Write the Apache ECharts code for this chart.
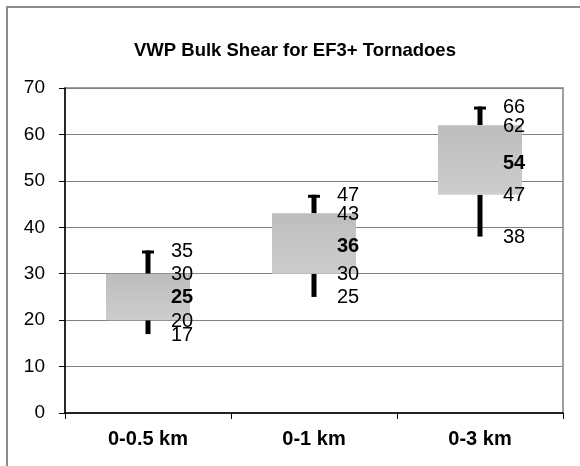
<!DOCTYPE html>
<html>
<head>
<meta charset="utf-8">
<script src="https://cdn.jsdelivr.net/npm/echarts@6/dist/echarts.min.js"></script>
<style>
html,body{margin:0;padding:0;background:#fff;}
#chart{width:580px;height:466px;}
</style>
</head>
<body>
<div id="chart"></div>
<script>
const categories = ['0-0.5 km', '0-1 km', '0-3 km'];
const minVals    = [17, 25, 38];
const q1Vals     = [20, 30, 47];
const medianVals = [25, 36, 54];
const q3Vals     = [30, 43, 62];
const maxVals    = [35, 47, 66];
const yMin = 0, yMax = 70, yInterval = 10;
const titleText = 'VWP Bulk Shear for EF3+ Tornadoes';

const FONT = '"Liberation Sans", Arial, sans-serif';
const chart = echarts.init(document.getElementById('chart'), null, {renderer: 'canvas'});

const data = categories.map((c, i) => [i, minVals[i], q1Vals[i], medianVals[i], q3Vals[i], maxVals[i]]);

function renderItem(params, api) {
  const idx = api.value(0);
  const cx = api.coord([idx, 0])[0];
  const yOf = v => api.coord([idx, v])[1];
  const band = api.size([1, 0])[0];
  const boxW = band * 0.506;
  const vMin = api.value(1), vQ1 = api.value(2), vMed = api.value(3), vQ3 = api.value(4), vMax = api.value(5);
  const yMinP = yOf(vMin), yQ1 = yOf(vQ1), yQ3 = yOf(vQ3), yMaxP = yOf(vMax);
  const wW = 5, capW = 12, capH = 3;
  const children = [
    {type: 'rect', shape: {x: cx - wW / 2, y: yMaxP, width: wW, height: yQ3 - yMaxP}, style: {fill: '#000'}},
    {type: 'rect', shape: {x: cx - capW / 2, y: yMaxP, width: capW, height: capH}, style: {fill: '#000'}},
    {type: 'rect', shape: {x: cx - wW / 2, y: yQ1, width: wW, height: yMinP - yQ1}, style: {fill: '#000'}},
    {type: 'rect', shape: {x: cx - boxW / 2, y: yQ3, width: boxW, height: yQ1 - yQ3},
      style: {fill: {type: 'linear', x: 0, y: 0, x2: 0, y2: 1,
        colorStops: [{offset: 0, color: '#bdbdbd'}, {offset: 1, color: '#cdcdcd'}]}}}
  ];
  const labels = [[vMax, false], [vQ3, false], [vMed, true], [vQ1, false], [vMin, false]];
  labels.forEach(([v, bold]) => {
    children.push({
      type: 'text', x: cx + 23, y: yOf(v) + 1,
      style: {text: String(v), fill: '#000', align: 'left', verticalAlign: 'middle',
        font: (bold ? 'bold ' : '') + '20px ' + FONT}
    });
  });
  return {type: 'group', children};
}

chart.setOption({
  animation: false,
  backgroundColor: '#fff',
  grid: {left: 65, right: 17, top: 88, bottom: 53, show: true, borderColor: '#808080', borderWidth: 1.5, containLabel: false},
  graphic: [
    {type: 'rect', shape: {x: 7, y: 7, width: 700, height: 700}, style: {fill: 'none', stroke: '#8c8c8c', lineWidth: 2}, z: -1},
    {type: 'text', x: 134, y: 51, style: {text: titleText, fill: '#000', align: 'left', verticalAlign: 'middle',
      font: 'bold 18.5px ' + FONT}}
  ],
  xAxis: {
    type: 'category', data: categories, boundaryGap: true,
    axisLine: {show: true, lineStyle: {color: '#000', width: 1.5}},
    axisTick: {show: true, length: 6, interval: 0, lineStyle: {color: '#000', width: 1}},
    axisLabel: {color: '#000', fontFamily: FONT, fontSize: 20, fontWeight: 'bold', margin: 16, interval: 0},
    splitLine: {show: false}
  },
  yAxis: {
    type: 'value', min: yMin, max: yMax, interval: yInterval,
    axisLine: {show: true, lineStyle: {color: '#000', width: 1.5}},
    axisTick: {show: true, length: 6, lineStyle: {color: '#000', width: 1}},
    axisLabel: {color: '#000', fontFamily: FONT, fontSize: 19, margin: 20},
    splitLine: {show: true, lineStyle: {color: '#808080', width: 1}}
  },
  series: [{
    type: 'custom', renderItem, data,
    encode: {x: 0, y: [1, 2, 3, 4, 5]},
    clip: false, z: 3
  }]
});
</script>
</body>
</html>
